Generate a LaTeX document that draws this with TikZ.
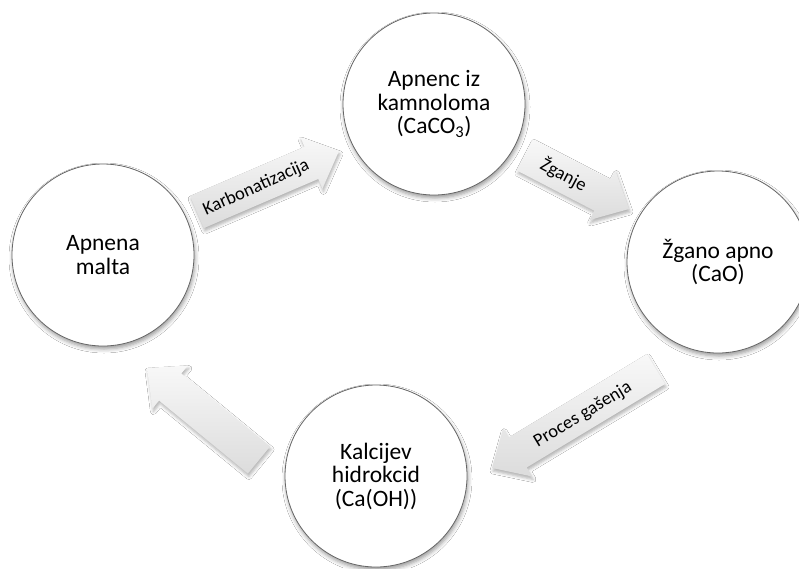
\documentclass[tikz,border=0pt]{standalone}
\usepackage{fontspec}
\setmainfont{Carlito}
\usetikzlibrary{calc,shadows.blur}
\definecolor{ringline}{HTML}{666666}
\definecolor{arrowtop}{HTML}{F8F8F8}
\definecolor{arrowbot}{HTML}{DCDCDC}
\tikzset{
  stage/.style={circle, draw=ringline, line width=0.8pt, fill=white,
    minimum size=182pt, inner sep=0pt, align=center,
    font=\fontsize{23.5}{23.5}\selectfont,
    blur shadow={shadow xshift=1pt, shadow yshift=-3pt, shadow blur radius=4pt, shadow opacity=40}},
  blockarrow/.style={top color=arrowtop, bottom color=arrowbot, draw=none,
    blur shadow={shadow xshift=1pt, shadow yshift=-3pt, shadow blur radius=3pt, shadow opacity=30}},
  arrowtext/.style={font=\fontsize{18.5}{20}\selectfont, inner sep=0pt}
}
\newcommand\cyclearrow[2]{%
  \coordinate (#2base) at ($(#2)!30pt!(#1)$);
  \path[blockarrow] ($(#1)!17.5pt!90:(#2)$) -- ($(#2base)!17.5pt!90:(#2)$)
    -- ($(#2base)!28pt!90:(#2)$) -- (#2) -- ($(#2base)!28pt!-90:(#2)$)
    -- ($(#2base)!17.5pt!-90:(#2)$) -- ($(#1)!17.5pt!-90:(#2)$) -- cycle;
  \coordinate (#2mid) at ($(#1)!0.5!(#2base)$);
}
\begin{document}
\begin{tikzpicture}[x=1pt,y=-1pt]
\fill[white] (0,0) rectangle (799,568);
\clip (0,0) rectangle (799,568);
% arrow end points
\coordinate (aonetail) at (197,212);
\coordinate (aonetip) at (339,151);
\coordinate (atwotail) at (525,155);
\coordinate (atwotip) at (629,209);
\coordinate (athreetail) at (656,369);
\coordinate (athreetip) at (492,468);
\coordinate (afourtail) at (259,460);
\coordinate (afourtip) at (147,368);
\cyclearrow{aonetail}{aonetip}
\cyclearrow{atwotail}{atwotip}
\cyclearrow{athreetail}{athreetip}
\cyclearrow{afourtail}{afourtip}
\node[arrowtext, rotate=24] (tone) at ($(aonetipmid)+(2,0)$) {Karbonatizacija};
\node[arrowtext, rotate=-28] (ttwo) at (atwotipmid) {Žganje};
\node[arrowtext, rotate=31] (tthree) at ($(athreetipmid)+(-4,4)$) {Proces gašenja};
% stages
\node[stage] (malta) at (103,255) {Apnena\\malta};
\node[stage] (apnenec) at (434,104) {Apnenc iz\\kamnoloma\\(CaCO\textsubscript{3})};
\node[stage] (zgano) at (718,262) {Žgano apno\\(CaO)};
\node[stage] (hidroksid) at (376,476) {Kalcijev\\hidrokcid\\(Ca(OH))};
\end{tikzpicture}
\end{document}
